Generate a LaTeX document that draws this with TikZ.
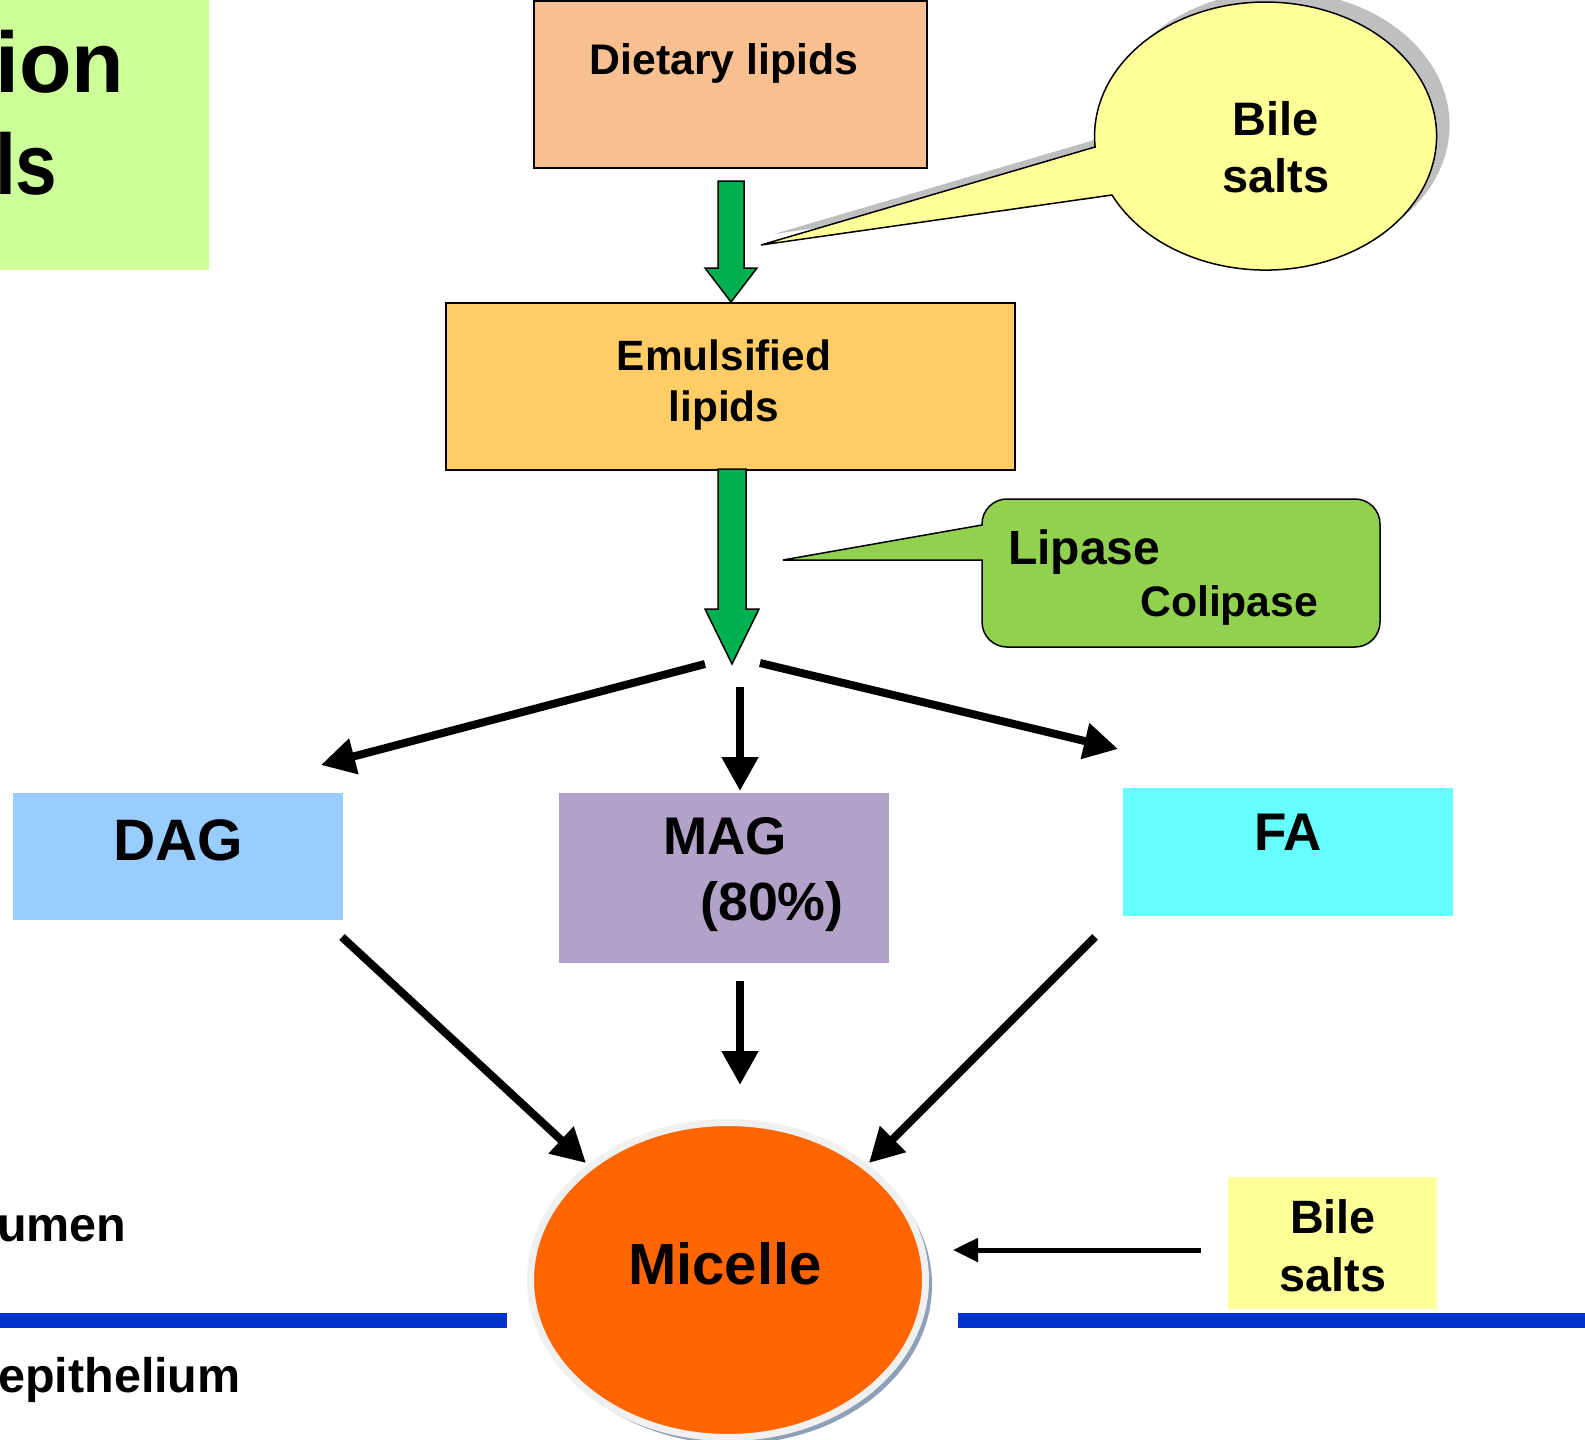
\documentclass[tikz,border=0pt]{standalone}
\usepackage{fontspec}
\setmainfont{Liberation Sans}
\usetikzlibrary{arrows.meta,shapes.geometric}

\definecolor{titlegreen}{HTML}{CCFF99}
\definecolor{dietfill}{HTML}{F8C090}
\definecolor{emulfill}{HTML}{FFCC66}
\definecolor{lipasefill}{HTML}{92D050}
\definecolor{flowgreen}{HTML}{00B050}
\definecolor{dagfill}{HTML}{99CCFF}
\definecolor{magfill}{HTML}{B3A2C7}
\definecolor{fafill}{HTML}{66FFFF}
\definecolor{micfill}{HTML}{FF6600}
\definecolor{ringgray}{HTML}{F0F0F0}
\definecolor{micshadow}{HTML}{8EA0B8}
\definecolor{bileyellow}{HTML}{FFFF99}
\definecolor{calloutshadow}{HTML}{BFBFBF}
\definecolor{membrane}{HTML}{0033CC}

\newcommand\boldsz[1]{\fontsize{#1}{#1}\selectfont\bfseries}

\begin{document}
\begin{tikzpicture}[x=1pt,y=-1pt,
  txt/.style={inner sep=0pt,anchor=base,font=\boldsz{#1}},
  txtw/.style={inner sep=0pt,anchor=base west,font=\boldsz{#1}},
  plainbox/.style={inner sep=0pt,anchor=north west},
  framedbox/.style={plainbox,draw=black,line width=1.5pt},
  reaction/.style={line width=8pt,-{Triangle[length=34pt,width=35pt]}},
  feed/.style={line width=5pt,-{Triangle[length=25pt,width=23pt]}},
  blockarrow/.style={fill=flowgreen,draw=black,line width=1.5pt,line join=miter}]
\useasboundingbox (0,0) rectangle (1585,1440);

% title panel, partly off the left edge
\node[plainbox,fill=titlegreen,minimum width=209pt,minimum height=270pt] (title) at (0,0) {};
\node[txtw=86] (title1) at (-5,92) {ion};
\node[txtw=86,xscale=0.87] (title2) at (-5,194) {ls};

% main boxes
\node[framedbox,fill=dietfill,minimum width=393pt,minimum height=167pt] (diet) at (533,0) {};
\node[txt=42.8] (dietlbl) at (724,74) {Dietary lipids};

\node[framedbox,fill=emulfill,minimum width=569pt,minimum height=167pt] (emul) at (445,302) {};
\node[txt=42.4] (emul1) at (724,370) {Emulsified};
\node[txt=42.4] (emul2) at (724,421) {lipids};

% green block arrows
\draw[blockarrow] (718,181) -- (744,181) -- (744,268) -- (757,268) -- (731,302)
  -- (705,268) -- (718,268) -- cycle;
\draw[blockarrow] (718,469) -- (746,469) -- (746,609) -- (759,609) -- (732,664)
  -- (705,609) -- (718,609) -- cycle;

% bile salts callout with shadow
\fill[calloutshadow,shift={(13,-11)}] (1095,147) -- (761,245) -- (1112,195)
  arc[start angle=206.1,end angle=544.7,x radius=171pt,y radius=134pt] -- cycle;
\draw[fill=bileyellow,line width=1.5pt] (1095,147) -- (761,245) -- (1112,195)
  arc[start angle=206.1,end angle=544.7,x radius=171pt,y radius=134pt] -- cycle;
\node[txt=47] (bile1) at (1276,135) {Bile};
\node[txt=47] (bile2) at (1276,192) {salts};

% lipase / colipase callout
\draw[fill=lipasefill,line width=1.5pt] (982,525) -- (982,524)
  arc[start angle=180,end angle=90,radius=25pt] -- (1355,499)
  arc[start angle=90,end angle=0,radius=25pt] -- (1380,622)
  arc[start angle=0,end angle=-90,radius=25pt] -- (1007,647)
  arc[start angle=-90,end angle=-180,radius=25pt] -- (982,560) -- (783,560) -- cycle;
\node[txtw=48] (lipase) at (1008,564) {Lipase};
\node[txtw=42.7] (colipase) at (1140,616) {Colipase};

% products
\node[plainbox,fill=dagfill,minimum width=330pt,minimum height=127pt] (dag) at (13,793) {};
\node[txt=58.5] (daglbl) at (178,860) {DAG};
\node[plainbox,fill=magfill,minimum width=330pt,minimum height=170pt] (mag) at (559,793) {};
\node[txtw=53] (maglbl) at (663,854) {MAG};
\node[txtw=53.8] (magpct) at (700,920) {(80\%)};
\node[plainbox,fill=fafill,minimum width=330pt,minimum height=128pt] (fa) at (1123,788) {};
\node[txt=53] (falbl) at (1288,850) {FA};

% arrow end points
\coordinate (sL) at (705,664);  \coordinate (dagin) at (321,765);
\coordinate (sM) at (740,687);  \coordinate (magin) at (740,791);
\coordinate (sR) at (760,663);  \coordinate (fain) at (1118,749);
\coordinate (dagout) at (342,937); \coordinate (micL) at (586,1163);
\coordinate (magout) at (740,981); \coordinate (micM) at (740,1085);
\coordinate (faout) at (1095,937); \coordinate (micR) at (869,1163);
\coordinate (bileout) at (1201,1250); \coordinate (micE) at (953,1250);

\draw[reaction] (sL) -- (dagin);
\draw[reaction] (sM) -- (magin);
\draw[reaction] (sR) -- (fain);
\draw[reaction] (dagout) -- (micL);
\draw[reaction] (magout) -- (micM);
\draw[reaction] (faout) -- (micR);

% membrane
\coordinate (memL0) at (0,1320);   \coordinate (memL1) at (507,1320);
\coordinate (memR0) at (958,1320); \coordinate (memR1) at (1585,1320);
\draw[membrane,line width=15pt] (memL0) -- (memL1);
\draw[membrane,line width=15pt] (memR0) -- (memR1);
\node[txtw=48.5] (lumen) at (-3,1241) {umen};
\node[txtw=48.5] (epith) at (-2,1392) {epithelium};

% micelle
\fill[micshadow] (733,1285) ellipse [x radius=199pt,y radius=159pt];
\node[ellipse,fill=micfill,draw=ringgray,line width=7pt,minimum width=395pt,
  minimum height=315pt,inner sep=0pt] (micelle) at (728,1280) {};
\node[txt=58] (miclbl) at (725,1284) {Micelle};

% bile salts feeding the micelle
\node[plainbox,fill=bileyellow,minimum width=209pt,minimum height=132pt] (bilebox) at (1228,1177) {};
\node[txt=46.8] (bileb1) at (1333,1233) {Bile};
\node[txt=46.8] (bileb2) at (1333,1291) {salts};
\draw[feed] (bileout) -- (micE);
\end{tikzpicture}
\end{document}
